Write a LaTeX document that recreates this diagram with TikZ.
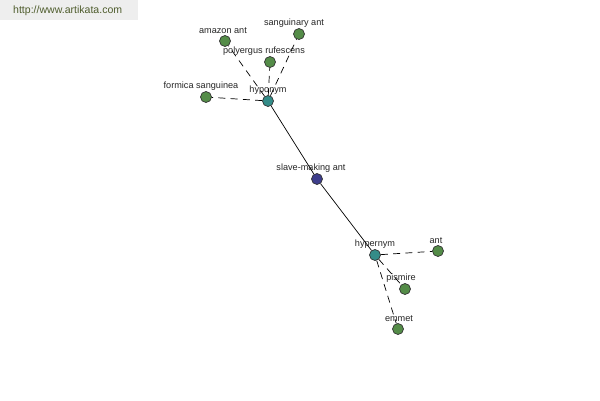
\documentclass[tikz,border=0pt]{standalone}
\usepackage{fontspec}
\setmainfont{Liberation Sans}
\usetikzlibrary{positioning}
\definecolor{leafgreen}{RGB}{84,140,72}
\definecolor{relteal}{RGB}{52,140,136}
\definecolor{rootblue}{RGB}{62,62,140}
\definecolor{bannergray}{RGB}{238,238,238}
\definecolor{bannertext}{RGB}{78,92,44}
\tikzset{
	wort/.style={circle,draw=black!80,thin,minimum size=0.22cm,inner sep=0pt,
		label distance=0.3pt},
	leaf/.style={wort,fill=leafgreen},
	rel/.style={wort,fill=relteal},
	root/.style={wort,fill=rootblue},
	beschr/.style={font=\fontsize{5.2}{6}\selectfont,text=black!85,inner sep=0.5pt},
	link/.style={dash pattern=on 4pt off 3pt,thin}
}
\begin{document}
\begin{tikzpicture}[x=0.02cm,y=-0.02cm]
		\useasboundingbox[fill=white] (0,0) rectangle (600,400);
		\fill[bannergray] (0,0) rectangle (138,20);
		\node[font=\fontsize{6}{7}\selectfont,text=bannertext,anchor=west](url) at (7,11) {http://www.artikata.com};
		\path
		(317,179) node[root,label={[beschr,name=lslave,xshift=-0.12cm]above:slave-making ant}](slave) {}
		(268,101) node[rel,label={[beschr,name=lhypo]above:hyponym}](hypo) {}
		(375,255) node[rel,label={[beschr,name=lhyper]above:hypernym}](hyper) {}
		(225,41) node[leaf,label={[beschr,name=lamazon,xshift=-0.04cm]above:amazon ant}](amazon) {}
		(299,34) node[leaf,label={[beschr,name=lsang,xshift=-0.1cm]above:sanguinary ant}](sang) {}
		(270,62) node[leaf,label={[beschr,name=lpoly,xshift=-0.12cm]above:polyergus rufescens}](poly) {}
		(206,97) node[leaf,label={[beschr,name=lformica,xshift=-0.1cm]above:formica sanguinea}](formica) {}
		(438,251) node[leaf,label={[beschr,name=lant,xshift=-0.04cm]above:ant}](ant) {}
		(405,289) node[leaf,label={[beschr,name=lpis,xshift=-0.08cm]above:pismire}](pis) {}
		(398,329) node[leaf,label={[beschr,name=lemmet,xshift=0.02cm]above:emmet}](emmet) {};
		\draw[thin] (hypo) -- (slave);
		\draw[thin] (slave) -- (hyper);
		\foreach \n in {amazon,sang,poly,formica}
			\draw[link] (hypo) -- (\n);
		\foreach \n in {ant,pis,emmet}
			\draw[link] (hyper) -- (\n);
	\end{tikzpicture}
\end{document}
